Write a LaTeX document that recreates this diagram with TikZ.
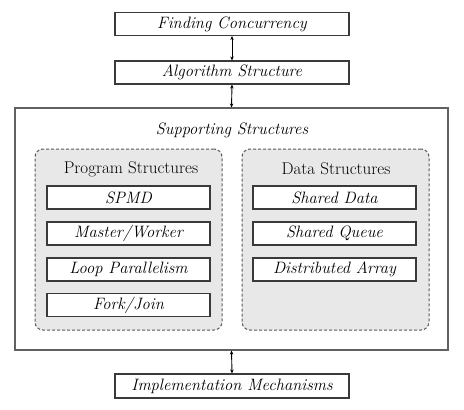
\documentclass[tikz,border=0pt]{standalone}
\usetikzlibrary{arrows.meta}
\definecolor{boxline}{HTML}{3A3A3A}
\definecolor{groupfill}{HTML}{E8E8E8}
\begin{document}
\begin{tikzpicture}[x=1pt,y=-1pt,
  txt/.style={font=\fontsize{16.5}{18}\selectfont\itshape},
  ttl/.style={font=\fontsize{17}{19}\selectfont},
  pbox/.style={draw=boxline,line width=1.1pt,fill=white,inner sep=0pt,txt,minimum height=23pt},
  group/.style={draw=boxline!85,dashed,dash pattern=on 3pt off 2pt,line width=1pt,fill=groupfill,rounded corners=8pt,inner sep=0pt,minimum width=187pt,minimum height=181pt},
  link/.style={{Stealth[length=4pt,width=3.5pt]}-{Stealth[length=4pt,width=3.5pt]},line width=0.9pt,draw=black}]
\useasboundingbox (0,0) rectangle (464,410);
\node[pbox,minimum width=234pt] (fc) at (232,24) {Finding Concurrency};
\node[pbox,minimum width=234pt] (as) at (232,72.5) {Algorithm Structure};
\node[draw=boxline!80,line width=1.1pt,inner sep=0pt,minimum width=433pt,minimum height=242pt] (ss) at (231.5,229) {};
\node[txt] (sst) at (232,130) {Supporting Structures};
\node[group] (pg) at (128.5,239.5) {};
\node[group] (dg) at (335.5,239.5) {};
\node[ttl] (pt) at (131,169) {Program Structures};
\node[ttl] (dt) at (336,169) {Data Structures};
\node[pbox,minimum width=163pt] (p1) at (128.5,197.5) {SPMD};
\node[pbox,minimum width=163pt] (p2) at (128.5,233.5) {Master/Worker};
\node[pbox,minimum width=163pt] (p3) at (128.5,269.5) {Loop Parallelism};
\node[pbox,minimum width=163pt] (p4) at (128.5,305) {Fork/Join};
\node[pbox,minimum width=163pt] (d1) at (334.5,197.5) {Shared Data};
\node[pbox,minimum width=163pt] (d2) at (334.5,233.5) {Shared Queue};
\node[pbox,minimum width=163pt] (d3) at (334.5,269.5) {Distributed Array};
\node[pbox,minimum width=234pt,minimum height=24pt] (im) at (232,386) {Implementation Mechanisms};
\draw[link] (fc.south) -- (as.north);
\draw[link] (as.south) -- (ss.north);
\draw[link] (ss.south) -- (im.north);
\end{tikzpicture}
\end{document}
